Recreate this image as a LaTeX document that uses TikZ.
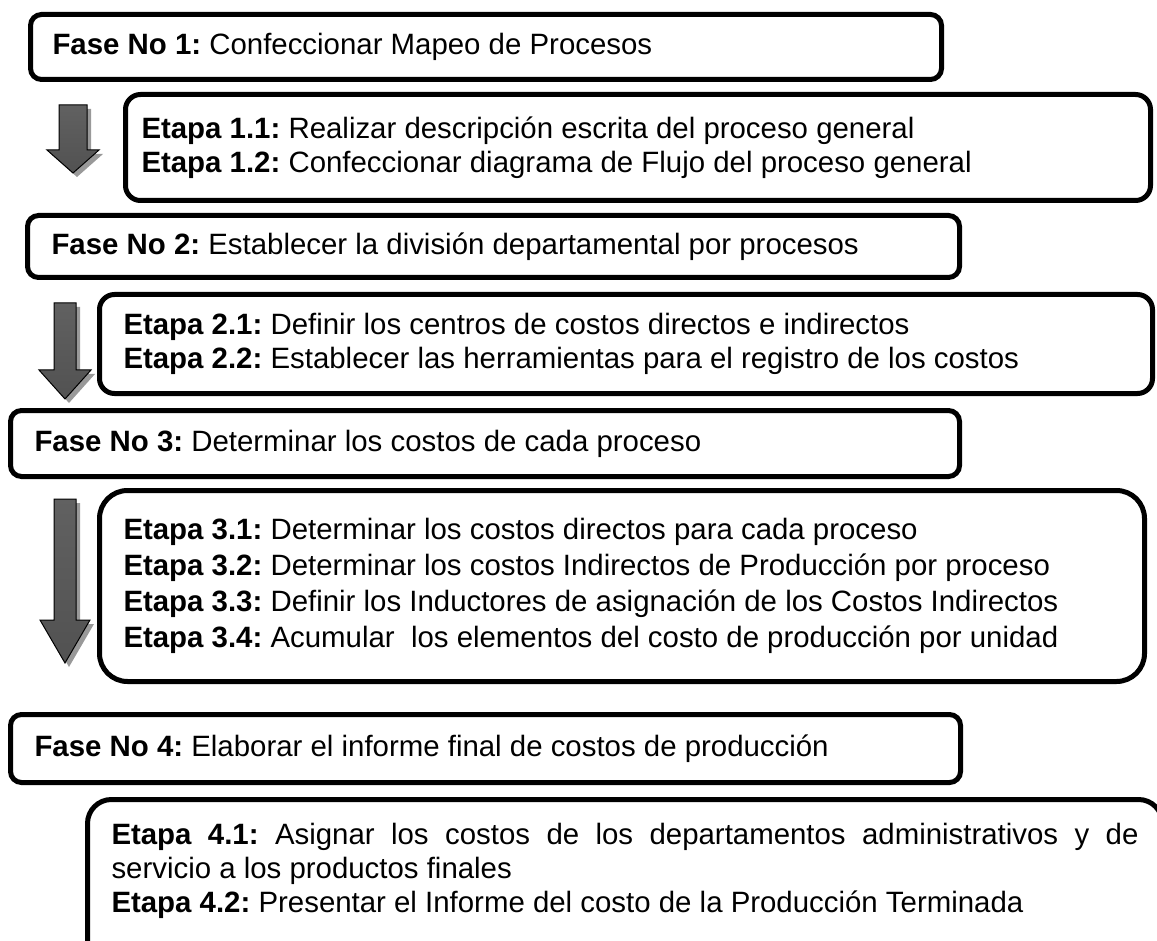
\documentclass[tikz,border=0pt]{standalone}
\usepackage{fontspec}
\setmainfont{Liberation Sans}
\begin{document}
\begin{tikzpicture}[x=0.5pt,y=-0.5pt,
   every node/.style={font=\fontsize{14.7pt}{17pt}\selectfont\frenchspacing,outer sep=0pt},
   caja/.style={draw,line width=2.5pt,anchor=north west,inner xsep=12pt,align=justify},
   fase/.style={caja,rounded corners=5.5pt},
   etapa/.style={caja,rounded corners=7.5pt},
   flecha/.style={draw=black,line width=0.5pt,top color=black!62,middle color=black,bottom color=black!68}]
\useasboundingbox (0,0) rectangle (1157,941);
\clip (0,0) rectangle (1157,941);
\node[fase,inner xsep=11pt,text width=433.5pt,minimum height=32.5pt] (fase1) at (30.5,14.5)
  {\textbf{Fase No 1:} Confeccionar Mapeo de Procesos};
\node[etapa,inner xsep=8pt,text width=496.5pt,minimum height=53pt] (etapa1) at (125.5,94.5)
  {\textbf{Etapa 1.1:} Realizar descripción escrita del proceso general\\
   \textbf{Etapa 1.2:} Confeccionar diagrama de Flujo del proceso general};
\node[fase,text width=442pt,minimum height=31pt] (fase2) at (27.5,215.5)
  {\textbf{Fase No 2:} Establecer la división departamental por procesos};
\node[etapa,text width=502.5pt,minimum height=49.5pt] (etapa2) at (99.5,294.5)
  {\textbf{Etapa 2.1:} Definir los centros de costos directos e indirectos\\
   \textbf{Etapa 2.2:} Establecer las herramientas para el registro de los costos};
\node[fase,text width=450.5pt,minimum height=33pt] (fase3) at (10.5,410.5)
  {\textbf{Fase No 3:} Determinar los costos de cada proceso};
\node[etapa,rounded corners=14pt,text width=498.5pt,minimum height=95.5pt,
   font=\fontsize{14.7pt}{18pt}\selectfont\frenchspacing] (etapa3) at (99.5,490.5)
  {\textbf{Etapa 3.1:} Determinar los costos directos para cada proceso\\
   \textbf{Etapa 3.2:} Determinar los costos Indirectos de Producción por proceso\\
   \textbf{Etapa 3.3:} Definir los Inductores de asignación de los Costos Indirectos\\
   \textbf{Etapa 3.4:} Acumular~ los elementos del costo de producción por unidad};
\node[fase,text width=451pt,minimum height=34pt] (fase4) at (10.5,714.5)
  {\textbf{Fase No 4:} Elaborar el informe final de costos de producción};
\node[etapa,rounded corners=12pt,text width=513.5pt,inner ysep=12pt] (etapa4) at (87.5,799.5)
  {\makebox[513.5pt][s]{\textbf{Etapa 4.1:} Asignar los costos de los departamentos administrativos y de}\\
   servicio a los productos finales\\
   \textbf{Etapa 4.2:} Presentar el Informe del costo de la Producción Terminada\rule[-14pt]{0pt}{14pt}};
\foreach \xc/\sw/\hw/\ytop/\ybase/\ytip in {73/14/26/105/150/173,65/11/26/303/370/399,65/11/25/499/620/663}{
  \fill[black!40,shift={(4,4)}] (\xc-\sw,\ytop) -- (\xc+\sw,\ytop) -- (\xc+\sw,\ybase) -- (\xc+\hw,\ybase)
    -- (\xc,\ytip) -- (\xc-\hw,\ybase) -- (\xc-\sw,\ybase) -- cycle;
  \shadedraw[flecha] (\xc-\sw,\ytop) -- (\xc+\sw,\ytop) -- (\xc+\sw,\ybase) -- (\xc+\hw,\ybase)
    -- (\xc,\ytip) -- (\xc-\hw,\ybase) -- (\xc-\sw,\ybase) -- cycle;
}
\end{tikzpicture}
\end{document}
